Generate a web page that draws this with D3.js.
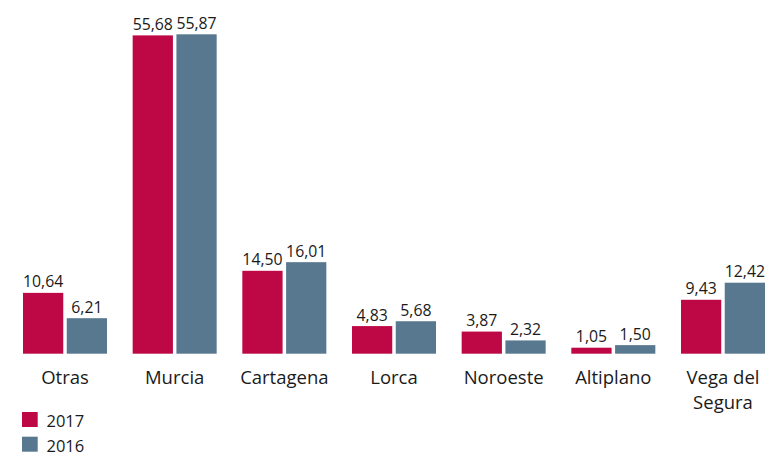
<!DOCTYPE html>
<html>
<head>
<meta charset="utf-8">
<script src="https://cdn.jsdelivr.net/npm/d3@7"></script>
<style>
  html, body { margin: 0; padding: 0; background: #fff; }
  svg { display: block; font-family: "Open Sans", "Noto Sans", sans-serif; }
</style>
</head>
<body>
<svg id="chart" width="766" height="455"></svg>
<script>
const categories = ["Otras", "Murcia", "Cartagena", "Lorca", "Noroeste", "Altiplano", "Vega del Segura"];
const categoryLines = [["Otras"], ["Murcia"], ["Cartagena"], ["Lorca"], ["Noroeste"], ["Altiplano"], ["Vega del", "Segura"]];
const seriesNames = ["2017", "2016"];
const values2017 = [10.64, 55.68, 14.50, 4.83, 3.87, 1.05, 9.43];
const values2016 = [6.21, 55.87, 16.01, 5.68, 2.32, 1.50, 12.42];
const colors = ["#BD0845", "#587890"];

const seriesValues = [values2017, values2016];
const svg = d3.select("#chart");

const baseY = 353.7;
const x0 = d3.scaleBand().domain(categories).range([23, 765]).paddingInner(0.234).paddingOuter(0);
const x1 = d3.scaleBand().domain(seriesNames).range([0, x0.bandwidth()]).paddingInner(0.08).paddingOuter(0);
const y = d3.scaleLinear().domain([0, 55.87]).range([baseY, 34.3]);

const fmt = v => d3.format(".2f")(v).replace(".", ",");

const groups = svg.selectAll("g.cat").data(categories).join("g")
  .attr("class", "cat")
  .attr("transform", d => `translate(${x0(d)},0)`);

groups.each(function(cat, i) {
  const g = d3.select(this);
  seriesNames.forEach((s, j) => {
    const v = seriesValues[j][i];
    g.append("rect")
      .attr("x", x1(s))
      .attr("y", y(v))
      .attr("width", x1.bandwidth())
      .attr("height", baseY - y(v))
      .attr("fill", colors[j]);
    g.append("text")
      .attr("x", x1(s) + x1.bandwidth() / 2)
      .attr("y", y(v) - 5.5)
      .attr("text-anchor", "middle")
      .attr("font-size", "15.8px")
      .attr("fill", "#1a1a1a")
      .text(fmt(v));
  });
  const t = g.append("text")
    .attr("x", x0.bandwidth() / 2)
    .attr("y", 384)
    .attr("text-anchor", "middle")
    .attr("font-size", "18.5px")
    .attr("fill", "#1a1a1a");
  categoryLines[i].forEach((line, k) => {
    t.append("tspan")
      .attr("x", x0.bandwidth() / 2)
      .attr("dy", k === 0 ? 0 : 24.5)
      .text(line);
  });
});

const legend = svg.append("g").attr("transform", "translate(22,412)");
seriesNames.forEach((s, j) => {
  const lg = legend.append("g").attr("transform", `translate(0,${j * 24.7})`);
  lg.append("rect").attr("width", 15.7).attr("height", 15).attr("fill", colors[j]);
  lg.append("text").attr("x", 24.5).attr("y", 14.8)
    .attr("font-size", "16.5px").attr("fill", "#1a1a1a").text(s);
});
</script>
</body>
</html>
